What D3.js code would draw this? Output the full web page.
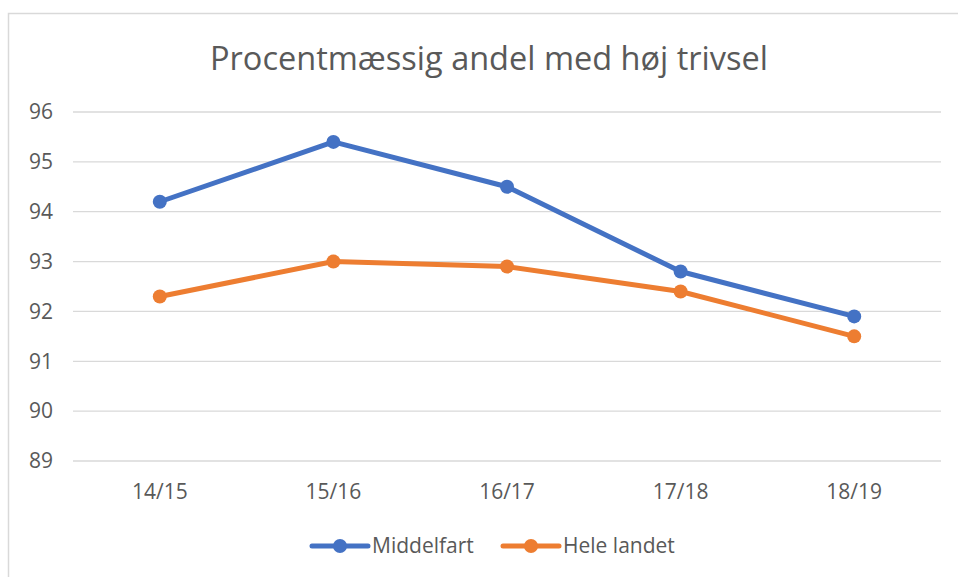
<!DOCTYPE html>
<html>
<head>
<meta charset="utf-8">
<script src="https://cdn.jsdelivr.net/npm/d3@7"></script>
<style>
  body { margin: 0; background: #fff; }
  svg { display: block; font-family: "Open Sans", "Noto Sans", sans-serif; }
</style>
</head>
<body>
<svg id="chart" width="958" height="577"></svg>
<script>
const seasons = ["14/15", "15/16", "16/17", "17/18", "18/19"];
const middelfart = [94.2, 95.4, 94.5, 92.8, 91.9];
const heleLandet = [92.3, 93.0, 92.9, 92.4, 91.5];
const yTicks = [89, 90, 91, 92, 93, 94, 95, 96];

const series = [
    { name: "Middelfart", values: middelfart, color: "#4472C4" },
    { name: "Hele landet", values: heleLandet, color: "#ED7D31" }
];

const svg = d3.select("#chart");
const textColor = "#595959";

// chart frame
svg.append("rect")
    .attr("x", 8.5).attr("y", 13.5)
    .attr("width", 970).attr("height", 600)
    .attr("fill", "none")
    .attr("stroke", "#d9d9d9")
    .attr("stroke-width", 1.5);

const margin = { left: 73, right: 941, top: 112, bottom: 461 };

const x = d3.scaleBand()
    .domain(seasons)
    .range([margin.left, margin.right]);

const y = d3.scaleLinear()
    .domain([89, 96])
    .range([margin.bottom, margin.top]);

// gridlines
svg.append("g")
    .selectAll("line")
    .data(yTicks)
    .join("line")
    .attr("x1", margin.left)
    .attr("x2", margin.right)
    .attr("y1", d => y(d))
    .attr("y2", d => y(d))
    .attr("stroke", "#d9d9d9")
    .attr("stroke-width", 1.3);

// y labels
const yAxis = svg.append("g")
    .attr("transform", "translate(53,0)")
    .call(d3.axisLeft(y).tickValues(yTicks).tickFormat(d3.format("d")).tickSize(0).tickPadding(0));
yAxis.select(".domain").remove();
yAxis.selectAll("text")
    .attr("fill", textColor)
    .style("font-size", "21px")
    .style("font-family", "'Open Sans', sans-serif");

// x labels
const xAxis = svg.append("g")
    .attr("transform", `translate(0,${margin.bottom})`)
    .call(d3.axisBottom(x).tickSize(0));
xAxis.select(".domain").remove();
xAxis.selectAll("text")
    .attr("y", 38)
    .attr("dy", 0)
    .attr("fill", textColor)
    .style("font-size", "21px")
    .style("font-family", "'Open Sans', sans-serif");

// title
svg.append("text")
    .attr("x", 489)
    .attr("y", 70)
    .attr("text-anchor", "middle")
    .attr("fill", textColor)
    .style("font-size", "32.5px")
    .text("Procentmæssig andel med høj trivsel");

const line = d3.line()
    .x((d, i) => x(seasons[i]) + x.bandwidth() / 2)
    .y(d => y(d));

series.forEach(s => {
    svg.append("path")
        .datum(s.values)
        .attr("d", line)
        .attr("fill", "none")
        .attr("stroke", s.color)
        .attr("stroke-width", 5)
        .attr("stroke-linejoin", "round")
        .attr("stroke-linecap", "round");

    svg.append("g")
        .selectAll("circle")
        .data(s.values)
        .join("circle")
        .attr("cx", (d, i) => x(seasons[i]) + x.bandwidth() / 2)
        .attr("cy", d => y(d))
        .attr("r", 7)
        .attr("fill", s.color);
});

// legend
const legendX = [312, 503];
const legend = svg.append("g")
    .selectAll("g")
    .data(series)
    .join("g")
    .attr("transform", (d, i) => `translate(${legendX[i]},546)`);

legend.append("line")
    .attr("x1", 0).attr("x2", 56)
    .attr("stroke", d => d.color)
    .attr("stroke-width", 5)
    .attr("stroke-linecap", "round");

legend.append("circle")
    .attr("cx", 28)
    .attr("r", 7)
    .attr("fill", d => d.color);

legend.append("text")
    .attr("x", 60)
    .attr("dy", "0.35em")
    .attr("fill", textColor)
    .style("font-size", "21px")
    .text(d => d.name);
</script>
</body>
</html>
